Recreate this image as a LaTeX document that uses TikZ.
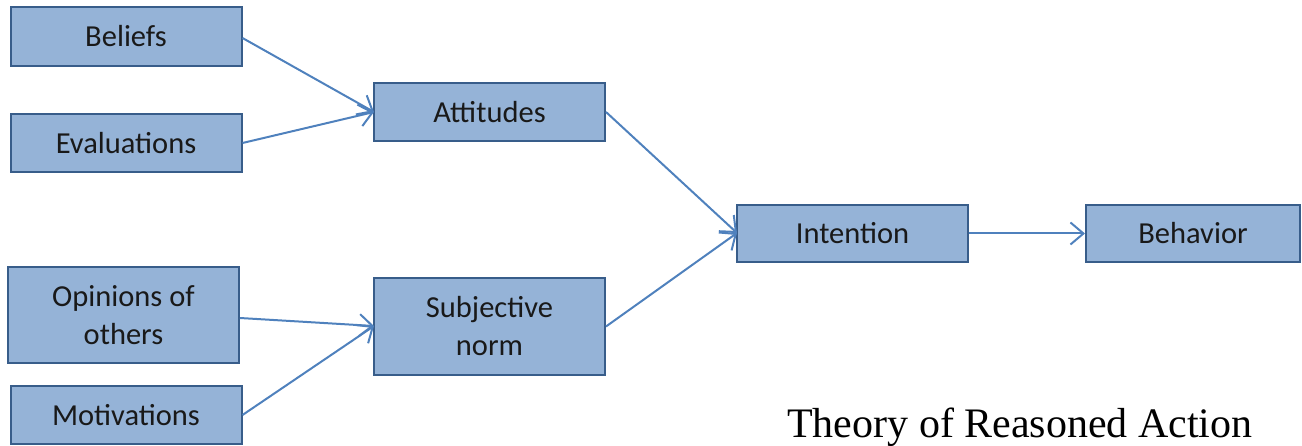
\documentclass[tikz,border=0pt]{standalone}
\usepackage{fontspec}
\setmainfont{Carlito}
\newfontfamily\capfont{Liberation Serif}
\usetikzlibrary{arrows.meta}
\definecolor{boxfill}{HTML}{95B3D7}
\definecolor{boxdraw}{HTML}{385D8A}
\definecolor{arrowcol}{HTML}{4F81BD}
\begin{document}
\begin{tikzpicture}[x=1pt,y=-1pt,
  box/.style={draw=boxdraw, fill=boxfill, line width=2pt, minimum width=231pt, inner sep=0pt, align=center, font=\fontsize{30.5}{38}\selectfont, text=black!90},
  conn/.style={draw=arrowcol, line width=2pt, -{Straight Barb[length=13pt,width=22pt,line width=2pt]}}]
\useasboundingbox (0,0) rectangle (1302,446);
\node[box, minimum height=59pt] (beliefs) at (126,36.5) {Beliefs};
\node[box, minimum height=58pt] (eval) at (126,143) {Evaluations};
\node[box, minimum height=58pt] (att) at (489.5,112) {Attitudes};
\node[box, minimum height=57pt] (int) at (852.5,233.5) {Intention};
\node[box, minimum height=57pt, minimum width=214pt] (beh) at (1193,233.5) {Behavior};
\node[box, minimum height=96pt] (opin) at (123.5,315) {Opinions of\\others};
\node[box, minimum height=97pt] (subj) at (489.5,326.5) {Subjective\\norm};
\node[box, minimum height=58pt] (mot) at (126,415) {Motivations};
\node[anchor=base west, font=\capfont\fontsize{42}{46}\selectfont, inner sep=0pt] (cap) at (787,437) {Theory of Reasoned Action};
\coordinate (attin) at (374,112);
\coordinate (subjin) at (374,326);
\coordinate (intin) at (737,233);
\draw[conn] (beliefs.east |- 0,38) -- (attin);
\draw[conn] (eval.east) -- (attin);
\draw[conn] (att.east) -- (intin);
\draw[conn] (subj.east) -- (intin);
\draw[conn] (opin.east |- 0,318) -- (subjin);
\draw[conn] (mot.east) -- (subjin);
\draw[conn] (int.east) -- (beh.west);
\end{tikzpicture}
\end{document}
